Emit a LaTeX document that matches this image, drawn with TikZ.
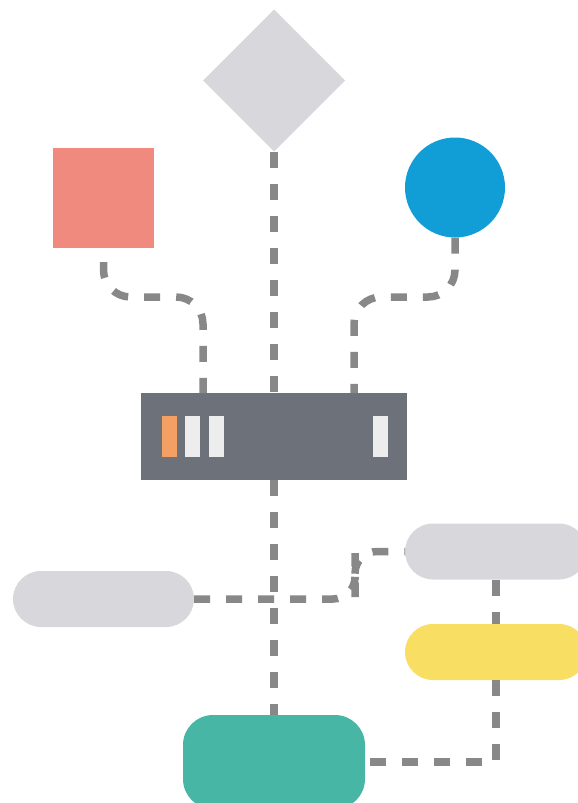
\documentclass[tikz,border=0pt]{standalone}
\usetikzlibrary{shapes.geometric}
\definecolor{lightgr}{HTML}{D8D8DC}
\definecolor{salmon}{HTML}{F08A7E}
\definecolor{skyblue}{HTML}{119ED6}
\definecolor{srvgray}{HTML}{6D717A}
\definecolor{barwhite}{HTML}{EDEDED}
\definecolor{barorange}{HTML}{F4A064}
\definecolor{sunyellow}{HTML}{F9DE64}
\definecolor{teal}{HTML}{48B6A5}
\definecolor{conngray}{HTML}{888888}
\tikzset{
  conn/.style={draw=conngray, line width=7.5pt, dash pattern=on 16pt off 16pt},
  pill/.style={rectangle, rounded corners=28pt, minimum width=182pt, minimum height=56pt, inner sep=0pt, outer sep=0pt},
  barbox/.style={rectangle, minimum width=15pt, minimum height=41pt, inner sep=0pt, outer sep=0pt},
}
\begin{document}
\begin{tikzpicture}[x=1pt,y=-1pt]
\useasboundingbox (0,0) rectangle (578,803);
\clip (0,0) rectangle (578,803);
% shapes
\node[diamond, aspect=1, fill=lightgr, minimum width=142pt, minimum height=142pt, inner sep=0pt, outer sep=0pt] (dia) at (274,80.5) {};
\node[rectangle, fill=salmon, minimum width=101pt, minimum height=100pt, inner sep=0pt, outer sep=0pt] (sq) at (103.5,198) {};
\node[circle, fill=skyblue, minimum size=100pt, inner sep=0pt, outer sep=0pt] (ci) at (455,187.5) {};
\node[rectangle, fill=srvgray, minimum width=266pt, minimum height=87pt, inner sep=0pt, outer sep=0pt] (srv) at (274,436.5) {};
\node[barbox, fill=barorange] (b1) at (169.5,436.5) {};
\node[barbox, fill=barwhite] (b2) at (192.5,436.5) {};
\node[barbox, fill=barwhite] (b3) at (216.5,436.5) {};
\node[barbox, fill=barwhite] (b4) at (380.5,436.5) {};
\node[pill, fill=lightgr, minimum width=181pt] (lp) at (103.5,599) {};
\node[pill, fill=lightgr] (rp) at (496,551.5) {};
\node[pill, fill=sunyellow] (yp) at (496,652) {};
\node[rectangle, rounded corners=30pt, fill=teal, minimum width=182pt, minimum height=94pt, inner sep=0pt, outer sep=0pt] (tl) at (274,762) {};
% junction coordinates
\coordinate (lj) at (203,297);
\coordinate (rj) at (354,297);
\coordinate (mj) at (355,575);
% connectors
\draw[conn] (dia.south) -- (srv.north);
\draw[conn, dash phase=18pt, rounded corners=27pt] (sq.south) |- (lj) -- (lj |- srv.north);
\draw[conn, rounded corners=27pt] (ci.south) |- (rj) -- (rj |- srv.north);
\draw[conn] (srv.south) -- (tl.north);
\draw[conn, rounded corners=22pt] (lp.east) -| (mj) |- (rp.west);
\draw[conn] (rp.south) -- (yp.north);
\draw[conn] (yp.south) |- (tl.east);
\end{tikzpicture}
\end{document}
